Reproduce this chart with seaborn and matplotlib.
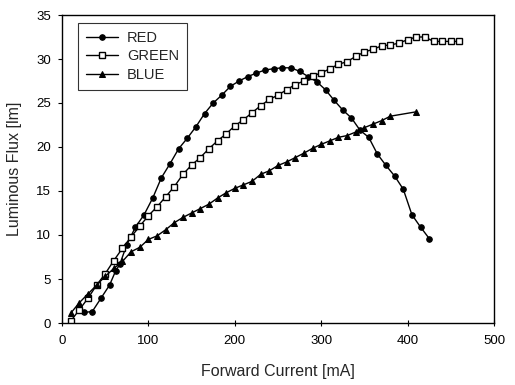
import matplotlib
matplotlib.use("Agg")
import matplotlib.pyplot as plt
import seaborn as sns
import pandas as pd

red_x = [20, 25, 35, 45, 55, 62, 67, 75, 85, 95, 105, 115, 125, 135, 145, 155, 165, 175, 185, 195,
         205, 215, 225, 235, 245, 255, 265, 275, 285, 295, 305, 315, 325, 335, 345, 355, 365, 375,
         385, 395, 405, 415, 425]
red_y = [1.5, 1.2, 1.3, 2.8, 4.3, 5.9, 6.7, 8.9, 10.9, 12.3, 14.2, 16.5, 18.1, 19.8, 21.0, 22.3, 23.8,
         25.0, 25.9, 26.9, 27.5, 28.0, 28.4, 28.75, 28.9, 29.0, 29.0, 28.6, 28.0, 27.4, 26.5, 25.3,
         24.2, 23.3, 21.9, 21.1, 19.2, 17.9, 16.7, 15.2, 12.3, 10.9, 9.6]

green_x = [10, 20, 30, 40, 50, 60, 70, 80, 90, 100, 110, 120, 130, 140, 150, 160, 170, 180, 190, 200,
           210, 220, 230, 240, 250, 260, 270, 280, 290, 300, 310, 320, 330, 340, 350, 360, 370, 380,
           390, 400, 410, 420, 430, 440, 450, 460]
green_y = [0.2, 1.5, 2.8, 4.3, 5.6, 7.1, 8.5, 9.8, 11.0, 12.2, 13.2, 14.35, 15.5, 16.9, 17.95, 18.8,
           19.8, 20.7, 21.5, 22.4, 23.1, 23.9, 24.7, 25.4, 25.9, 26.5, 27.1, 27.5, 28.1, 28.4, 28.9,
           29.4, 29.7, 30.3, 30.8, 31.1, 31.5, 31.6, 31.8, 32.2, 32.5, 32.5, 32.0, 32.0, 32.0, 32.0]

blue_x = [10, 20, 30, 40, 50, 60, 70, 80, 90, 100, 110, 120, 130, 140, 150, 160, 170, 180, 190, 200,
          210, 220, 230, 240, 250, 260, 270, 280, 290, 300, 310, 320, 330, 340, 350, 360, 370, 380, 410]
blue_y = [1.1, 2.3, 3.3, 4.3, 5.3, 6.2, 7.0, 8.1, 8.6, 9.5, 9.9, 10.6, 11.4, 12.0, 12.5, 13.0, 13.5,
          14.2, 14.8, 15.3, 15.7, 16.1, 16.9, 17.3, 17.9, 18.3, 18.8, 19.3, 19.85, 20.3, 20.7, 21.1,
          21.3, 21.7, 22.2, 22.6, 23.0, 23.5, 24.0]

x_ticks = [0, 100, 200, 300, 400, 500]
y_ticks = [0, 5, 10, 15, 20, 25, 30, 35]

sns.set_theme(style="white")
plt.rcParams['font.family'] = ['Liberation Sans', 'DejaVu Sans']

fig = plt.figure(figsize=(5.15, 3.85), dpi=100)
ax = fig.add_axes([62/515, 1-323/385, 432/515, 308/385])

common = dict(color="black", linewidth=1.0, markersize=4, ax=ax, sort=False)
sns.lineplot(x=red_x, y=red_y, marker="o", markerfacecolor="black", markeredgecolor="black",
             label="RED", **common)
sns.lineplot(x=green_x, y=green_y, marker="s", markerfacecolor="white", markeredgecolor="black",
             markeredgewidth=1.0, label="GREEN", **common)
sns.lineplot(x=blue_x, y=blue_y, marker="^", markerfacecolor="black", markeredgecolor="black",
             label="BLUE", **common)

ax.set_xlim(0, 500)
ax.set_ylim(0, 35)
ax.set_xticks(x_ticks)
ax.set_yticks(y_ticks)
ax.set_xlabel("Forward Current [mA]", fontsize=11.5, labelpad=12)
ax.set_ylabel("Luminous Flux [lm]", fontsize=11.5, labelpad=10)
ax.tick_params(axis="both", labelsize=9.5, colors="black")
ax.tick_params(axis="x", direction="inout", length=4, width=0.8, bottom=True, pad=7)
ax.tick_params(axis="y", direction="out", length=3, width=0.8, left=True, pad=5)
for s in ax.spines.values():
    s.set_color("black")
    s.set_linewidth(1.0)

leg = ax.legend(loc="upper left", bbox_to_anchor=(0.037, 0.974), borderaxespad=0, frameon=True,
                fancybox=False, fontsize=10.5, handlelength=2.2, borderpad=0.55, labelspacing=0.3,
                handletextpad=0.6)
leg.get_frame().set_edgecolor("black")
leg.get_frame().set_linewidth(0.8)

fig.savefig("out.png", dpi=100)
